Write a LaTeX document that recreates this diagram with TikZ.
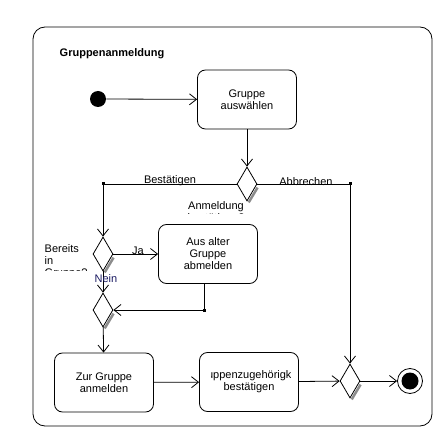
\documentclass[tikz,border=0pt]{standalone}
\usepackage{fontspec}
\setmainfont{Liberation Sans}
\usepackage{tikz}
\usetikzlibrary{%
	arrows.meta,%
	calc,%
	shapes.geometric
}
\definecolor{navy-nein}{rgb}{0.1, 0.1, 0.38}
\definecolor{shadow-grey}{rgb}{0.55, 0.55, 0.55}

\begin{document}
\begin{tikzpicture}[x=1pt,y=-1pt,line width=0.8pt,
	font=\fontsize{11}{12}\selectfont,
	action/.style={draw,rounded corners=8pt,minimum width=99pt,minimum height=59pt,align=center,inner sep=0pt},
	choice/.style={draw,diamond,minimum width=20pt,minimum height=34pt,inner sep=0pt,fill=white},
	flow/.style={-{Straight Barb[length=7pt,width=11pt]}},
	bendpt/.style={fill,inner sep=0pt,minimum size=3pt},
	dropshade/.style={shadow-grey,line width=2.5pt}
	]
	\useasboundingbox (0,0) rectangle (444,438);
	% Frame and title
	\node[draw,rounded corners=12pt,minimum width=399pt,minimum height=399pt] (frame) at (232.5,226.5) {};
	\node[font=\fontsize{11}{12}\selectfont\bfseries,anchor=west] (title) at (56,54) {Gruppenanmeldung};
	
	% Start and end
	\node[circle,fill,minimum size=16pt,inner sep=0pt] (start) at (98,99) {};
	\node[circle,draw,minimum size=25pt,inner sep=0pt] (stop) at (410,381) {};
	\node[circle,fill,minimum size=17pt,inner sep=0pt] (stopdot) at (stop.center) {};
	
	% Actions
	\node[action] (sel) at (247,99.5) {Gruppe\\auswählen};
	\node[action] (old) at (208,254) {Aus alter\\Gruppe\\abmelden};
	\node[action] (zur) at (104,382.5) {Zur Gruppe\\anmelden};
	\node[action] (conf) at (249,382) {};
	\begin{scope}
		\clip (211,360) rectangle (290,400);
		\node[align=center] (conftext) at (conf.center) {Gruppenzugehörigkeit\\bestätigen};
	\end{scope}
	
	% Decisions
	\node[choice] (d1) at (247,184) {};
	\node[choice] (d2) at (103,254) {};
	\node[choice] (d3) at (103,310) {};
	\node[choice] (d4) at (350,381) {};
	\foreach \d in {d1,d2,d3,d4}
		\draw[dropshade] ($(\d.east)!0.15!(\d.south)+(1.7,1)$) -- ($(\d.south)+(1.7,1)$);
	
	% Bends
	\node[bendpt] (best) at (103,184) {};
	\node[bendpt] (abb) at (350,184) {};
	\node[bendpt] (join) at (204,310) {};
	
	% Connectors
	\draw[flow] (start) -- (sel);
	\draw[flow] (sel) -- (d1);
	\draw[flow] (d1.west) -- (best.center) -- (d2.north);
	\draw[flow] (d1.east) -- (abb.center) -- (d4.north);
	\draw[flow] (d2) -- (old);
	\draw[flow] (d2) -- (d3);
	\draw[flow] ([xshift=-4pt]old.south) -- (join.center) -- (d3.east);
	\draw[flow] (d3) -- (zur);
	\draw[flow] (zur) -- (conf);
	\draw[flow] (conf) -- (d4);
	\draw[flow] (d4) -- (stop);
	
	% Labels
	\node (lblbest) at (170,181) {Bestätigen};
	\node (lblabb) at (306,182) {Abbrechen};
	\node (lblja) at (138,251) {Ja};
	\node[navy-nein] (lblnein) at (106,279) {Nein};
	\begin{scope}
		\clip (150,198) rectangle (262,214);
		\node[align=center] (lblanm) at (216,213) {Anmeldung\\bestätigen?};
	\end{scope}
	\begin{scope}
		\clip (38,238) rectangle (95,270.5);
		\node[align=left,anchor=west] (lblber) at (41,262) {Bereits\\in\\Gruppe?};
	\end{scope}
\end{tikzpicture}
\end{document}
